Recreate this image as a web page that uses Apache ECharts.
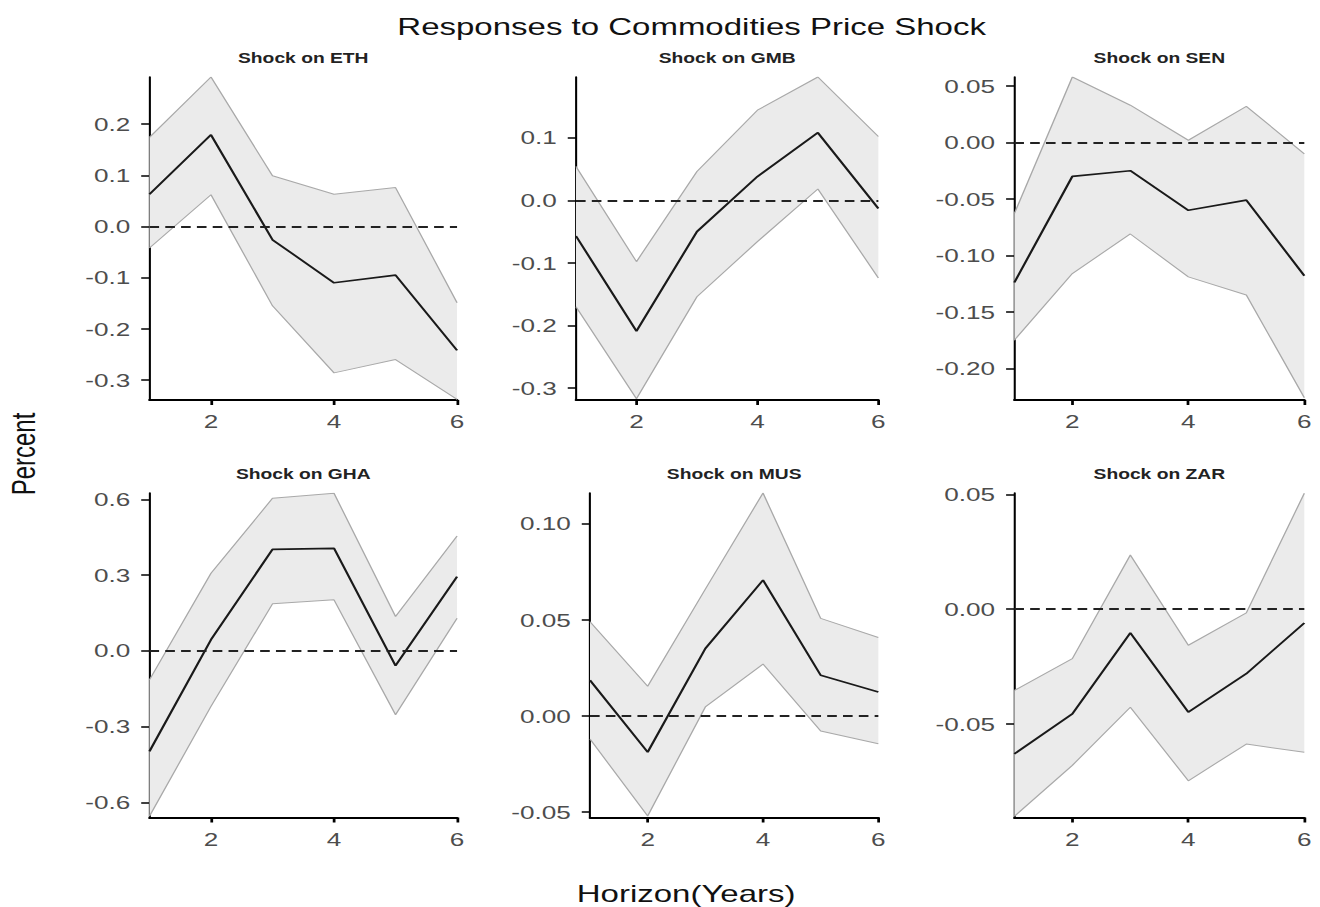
<!DOCTYPE html>
<html lang="en">
<head>
<meta charset="UTF-8">
<title>Responses to Commodities Price Shock</title>
<script src="https://cdn.jsdelivr.net/npm/echarts@6.0.0/dist/echarts.min.js"></script>
<style>
    html, body { margin: 0; padding: 0; background: #fff; overflow: hidden; }
    /* the reference picture is stretched sideways, so the chart is drawn narrow and widened */
    #chart { width: 960px; height: 907px; transform: scaleX(1.375); transform-origin: 0 0; }
</style>
</head>
<body>
<div id="chart"></div>
<script type="text/javascript">
    var horizon = ['1', '2', '3', '4', '5', '6'];

    var ethMean  = [0.063, 0.179, -0.026, -0.110, -0.095, -0.242];
    var ethUpper = [0.174, 0.292, 0.099, 0.063, 0.076, -0.149];
    var ethLower = [-0.042, 0.062, -0.155, -0.286, -0.260, -0.338];

    var gmbMean  = [-0.057, -0.209, -0.050, 0.038, 0.108, -0.013];
    var gmbUpper = [0.054, -0.098, 0.046, 0.144, 0.197, 0.102];
    var gmbLower = [-0.170, -0.317, -0.154, -0.066, 0.018, -0.124];

    var senMean  = [-0.124, -0.030, -0.025, -0.060, -0.051, -0.118];
    var senUpper = [-0.063, 0.058, 0.033, 0.002, 0.032, -0.010];
    var senLower = [-0.175, -0.116, -0.081, -0.119, -0.135, -0.226];

    var ghaMean  = [-0.398, 0.044, 0.402, 0.406, -0.059, 0.294];
    var ghaUpper = [-0.115, 0.307, 0.604, 0.624, 0.136, 0.455];
    var ghaLower = [-0.655, -0.220, 0.186, 0.202, -0.253, 0.129];

    var musMean  = [0.0186, -0.0188, 0.0351, 0.0707, 0.0212, 0.0125];
    var musUpper = [0.049, 0.0155, 0.066, 0.116, 0.0508, 0.0408];
    var musLower = [-0.012, -0.052, 0.0047, 0.027, -0.0078, -0.0144];

    var zarMean  = [-0.063, -0.0456, -0.0103, -0.0448, -0.0281, -0.006];
    var zarUpper = [-0.0354, -0.0215, 0.0236, -0.0157, -0.0016, 0.0505];
    var zarLower = [-0.0902, -0.068, -0.0427, -0.0747, -0.0587, -0.0623];

    // y axis ranges and ticks
    var ethTicks = [-0.3, -0.2, -0.1, 0, 0.1, 0.2];
    var ethLabels = ['-0.3', '-0.2', '-0.1', '0.0', '0.1', '0.2'];
    var gmbTicks = [-0.3, -0.2, -0.1, 0, 0.1];
    var gmbLabels = ['-0.3', '-0.2', '-0.1', '0.0', '0.1'];
    var senTicks = [-0.2, -0.15, -0.1, -0.05, 0, 0.05];
    var senLabels = ['-0.20', '-0.15', '-0.10', '-0.05', '0.00', '0.05'];
    var ghaTicks = [-0.6, -0.3, 0, 0.3, 0.6];
    var ghaLabels = ['-0.6', '-0.3', '0.0', '0.3', '0.6'];
    var musTicks = [-0.05, 0, 0.05, 0.1];
    var musLabels = ['-0.05', '0.00', '0.05', '0.10'];
    var zarTicks = [-0.05, 0, 0.05];
    var zarLabels = ['-0.05', '0.00', '0.05'];

    var yMin = [-0.339, -0.319, -0.228, -0.66, -0.0528, -0.0907];
    var yMax = [0.292, 0.197, 0.058, 0.625, 0.116, 0.0506];

    var mainTitle = 'Responses to Commodities Price Shock';
    var xTitle = 'Horizon(Years)';
    var yTitle = 'Percent';

    var panels = [
        {title: 'Shock on ETH', mean: ethMean, upper: ethUpper, lower: ethLower, ticks: ethTicks, labels: ethLabels},
        {title: 'Shock on GMB', mean: gmbMean, upper: gmbUpper, lower: gmbLower, ticks: gmbTicks, labels: gmbLabels},
        {title: 'Shock on SEN', mean: senMean, upper: senUpper, lower: senLower, ticks: senTicks, labels: senLabels},
        {title: 'Shock on GHA', mean: ghaMean, upper: ghaUpper, lower: ghaLower, ticks: ghaTicks, labels: ghaLabels},
        {title: 'Shock on MUS', mean: musMean, upper: musUpper, lower: musLower, ticks: musTicks, labels: musLabels},
        {title: 'Shock on ZAR', mean: zarMean, upper: zarUpper, lower: zarLower, ticks: zarTicks, labels: zarLabels}
    ];

    // plot boxes: left, top, width, height (in the narrow drawing space)
    var boxes = [
        [108.7, 77, 223.7, 323],
        [418.9, 77, 219.9, 323],
        [737.7, 77, 210.9, 323],
        [108.7, 493, 223.7, 324.5],
        [429.1, 493, 209.7, 324.5],
        [737.7, 493, 210.9, 324.5]
    ];

    var font = '"Liberation Sans", Arial, sans-serif';
    var bandFill = '#ebebeb';
    var bandLine = '#a9a9a9';

    var grids = [], xAxes = [], yAxes = [], series = [], texts = [];

    panels.forEach(function (p, i) {
        var b = boxes[i];
        grids.push({left: b[0], top: b[1], width: b[2], height: b[3], containLabel: false, outerBoundsMode: 'none'});

        xAxes.push({
            type: 'category',
            gridIndex: i,
            data: horizon,
            boundaryGap: false,
            axisLine: {onZero: false, lineStyle: {color: '#000', width: 2}},
            axisTick: {
                length: 5,
                interval: function (idx) { return Number(horizon[idx]) % 2 === 0; },
                lineStyle: {color: '#000', width: 2}
            },
            axisLabel: {
                interval: function (idx) { return Number(horizon[idx]) % 2 === 0; },
                margin: 12,
                color: '#4d4d4d',
                fontSize: 19,
                fontFamily: font
            },
            splitLine: {show: false}
        });

        yAxes.push({
            type: 'value',
            gridIndex: i,
            min: yMin[i],
            max: yMax[i],
            axisLine: {show: true, onZero: false, lineStyle: {color: '#000', width: 1.5}},
            axisTick: {show: true, length: 6, customValues: p.ticks, lineStyle: {color: '#000', width: 1.5}},
            axisLabel: {
                customValues: p.ticks,
                margin: 14,
                color: '#4d4d4d',
                fontSize: 19,
                fontFamily: font,
                formatter: function (v) {
                    var k = p.ticks.indexOf(v);
                    return k >= 0 ? p.labels[k] : String(v);
                }
            },
            splitLine: {show: false}
        });

        var diff = p.upper.map(function (u, k) { return u - p.lower[k]; });

        series.push({
            type: 'line', xAxisIndex: i, yAxisIndex: i, data: p.lower,
            stack: 'band' + i, stackStrategy: 'all', symbol: 'none', silent: true,
            lineStyle: {opacity: 0}
        });
        series.push({
            type: 'line', xAxisIndex: i, yAxisIndex: i, data: diff,
            stack: 'band' + i, stackStrategy: 'all', symbol: 'none', silent: true,
            lineStyle: {opacity: 0},
            areaStyle: {color: bandFill, opacity: 1}
        });
        series.push({
            type: 'line', xAxisIndex: i, yAxisIndex: i, data: p.lower,
            symbol: 'none', silent: true,
            lineStyle: {color: bandLine, width: 1}
        });
        series.push({
            type: 'line', xAxisIndex: i, yAxisIndex: i, data: p.upper,
            symbol: 'none', silent: true,
            lineStyle: {color: bandLine, width: 1}
        });
        series.push({
            type: 'line', xAxisIndex: i, yAxisIndex: i, data: p.mean,
            symbol: 'none', silent: true,
            lineStyle: {color: '#1a1a1a', width: 1.7},
            markLine: {
                silent: true,
                symbol: ['none', 'none'],
                label: {show: false},
                lineStyle: {color: '#222', width: 2, type: [7, 4.5]},
                data: [{yAxis: 0}]
            }
        });

        texts.push({
            type: 'text',
            x: b[0] + b[2] / 2,
            y: b[1] - 19,
            style: {
                text: p.title, fill: '#222', font: 'bold 14px ' + font,
                textAlign: 'center', textVerticalAlign: 'middle', align: 'center', verticalAlign: 'middle'
            }
        });
    });

    texts.push({
        type: 'text', x: 503, y: 27,
        style: {text: mainTitle, fill: '#111', font: '24px ' + font,
            textAlign: 'center', textVerticalAlign: 'middle', align: 'center', verticalAlign: 'middle'}
    });
    texts.push({
        type: 'text', x: 499, y: 894,
        style: {text: xTitle, fill: '#111', font: '24px ' + font,
            textAlign: 'center', textVerticalAlign: 'middle', align: 'center', verticalAlign: 'middle'}
    });
    texts.push({
        type: 'text', x: 17, y: 454, rotation: Math.PI / 2,
        style: {text: yTitle, fill: '#111', font: '24px ' + font,
            textAlign: 'center', textVerticalAlign: 'middle', align: 'center', verticalAlign: 'middle'}
    });

    var myChart = echarts.init(document.getElementById('chart'), null, {renderer: 'svg'});
    myChart.setOption({
        animation: false,
        backgroundColor: '#fff',
        grid: grids,
        xAxis: xAxes,
        yAxis: yAxes,
        series: series,
        graphic: texts
    });
</script>
</body>
</html>
